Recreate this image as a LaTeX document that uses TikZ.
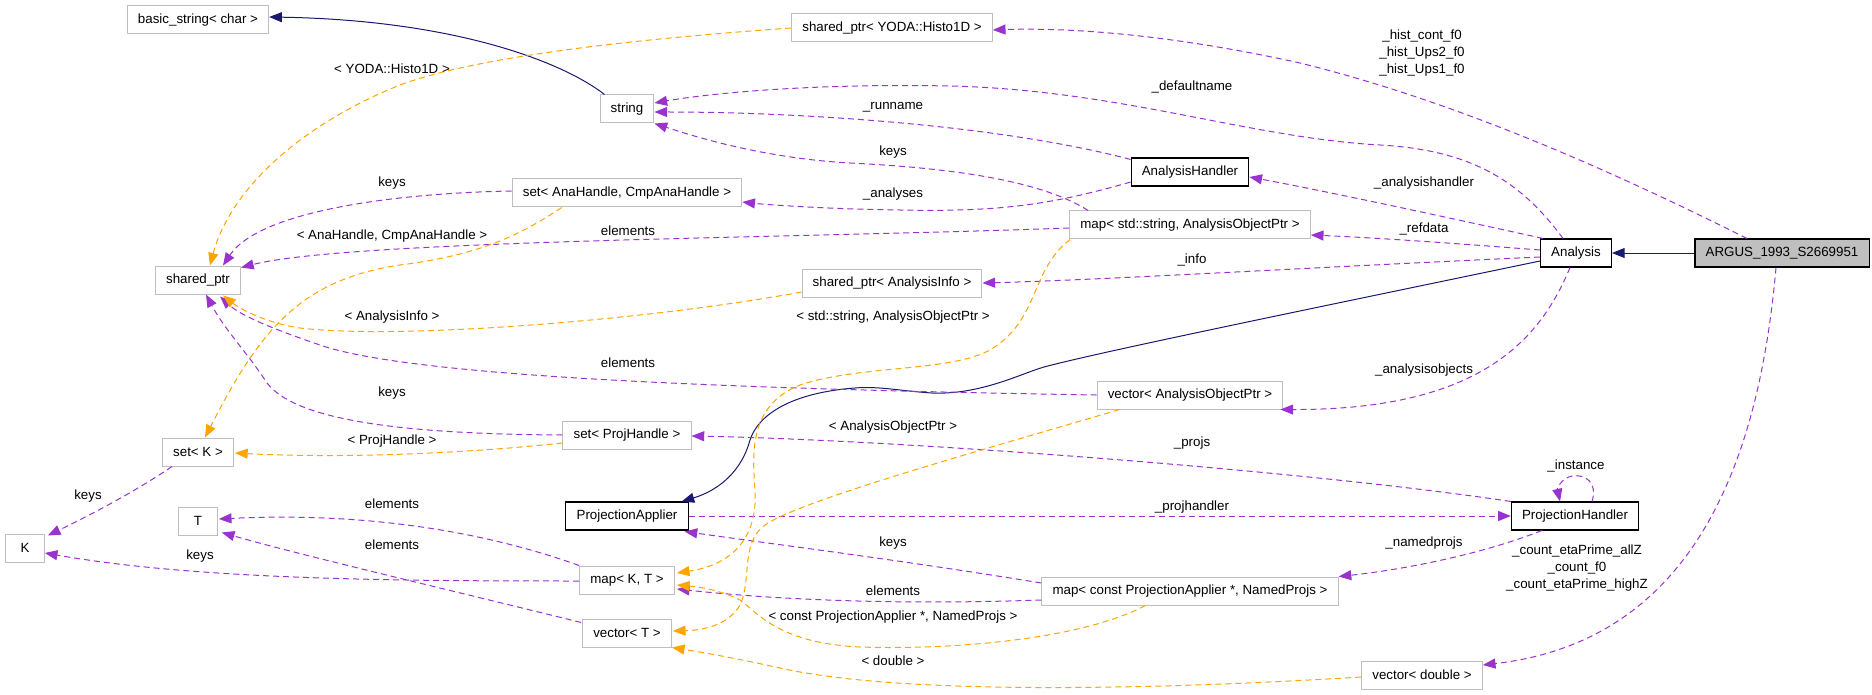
\documentclass[tikz,border=0pt]{standalone}
\usepackage{fontspec}
\setmainfont{Liberation Sans}
\usetikzlibrary{arrows.meta,calc}
\definecolor{usecol}{HTML}{9A32CD}
\definecolor{tplcol}{HTML}{FFA500}
\definecolor{inhcol}{HTML}{191970}
\definecolor{boxgray}{HTML}{BFBFBF}
\tikzset{%
	cls/.style      = {draw=black, line width=0.8pt, rectangle, minimum height=21pt, minimum width=29pt, inner xsep=8pt, inner ysep=0pt, font=\fontsize{10}{12}\selectfont}, % Class
	tcls/.style     = {cls, draw=boxgray, line width=0.75pt}, % Template / external
	cur/.style      = {cls, fill=boxgray}, % This class
	lbl/.style      = {inner sep=0pt, align=center, font=\fontsize{10}{13}\selectfont}, % Edge label
	usage/.style    = {draw=usecol, line width=0.75pt, dash pattern=on 4.5pt off 3pt, -{Triangle[length=9.5pt,width=7.5pt]}},
	tmpl/.style     = {usage, draw=tplcol},
	inherit/.style  = {draw=inhcol, line width=0.75pt, -{Triangle[length=9.5pt,width=7.5pt]}},
}
\begin{document}
\begin{tikzpicture}[x=0.75pt,y=-0.75pt]
	\useasboundingbox (0,0) rectangle (1872,695);
	\node [cur]  (argus)  at (1782,253) {ARGUS\_1993\_S2669951};
	\node [cls]  (ana)    at (1576,253) {Analysis};
	\node [cls]  (anah)   at (1190,172) {AnalysisHandler};
	\node [cls]  (projh)  at (1575,516) {ProjectionHandler};
	\node [cls]  (proja)  at (627,516)  {ProjectionApplier};
	\node [tcls] (shyoda) at (892,28)   {shared\_ptr< YODA::Histo1D >};
	\node [tcls] (str)    at (627,109)  {string};
	\node [tcls] (bstr)   at (198,20)   {basic\_string< char >};
	\node [tcls] (setana) at (627,193)  {set< AnaHandle, CmpAnaHandle >};
	\node [tcls] (mapstr) at (1190,225) {map< std::string, AnalysisObjectPtr >};
	\node [tcls] (shinfo) at (892,283)  {shared\_ptr< AnalysisInfo >};
	\node [tcls] (shptr)  at (198,280)  {shared\_ptr};
	\node [tcls] (vecaop) at (1190,395) {vector< AnalysisObjectPtr >};
	\node [tcls] (setproj) at (627,435) {set< ProjHandle >};
	\node [tcls] (setk)   at (198,452)  {set< K >};
	\node [tcls] (k)      at (25,548)   {K};
	\node [tcls] (t)      at (198,521)  {T};
	\node [tcls] (mapkt)  at (627,580)  {map< K, T >};
	\node [tcls] (vect)   at (627,633)  {vector< T >};
	\node [tcls] (mappa)  at (1190,591) {map< const ProjectionApplier *, NamedProjs >};
	\node [tcls] (vecdbl) at (1422,675) {vector< double >};

	% inheritance
	\draw[inherit] (argus.west) -- (ana.east);
	\draw[inherit] ($(ana.west)+(0,8)$) .. controls (1300,311) and (1100,352) .. (1044,367) .. controls (1020,374) and (980,395) .. (932,393) .. controls (900,391) and (880,386) .. (855,388) .. controls (800,392) and (760,410) .. (750,440) .. controls (742,470) and (720,490) .. ($(proja.north east)+(-7,0)$);
	\draw[inherit] ($(str.north west)+(5,0)$) .. controls (560,60) and (450,20) .. ($(bstr.east)+(0,-3)$);

	% usage
	\draw[usage] ($(argus.north)+(-35,0)$) .. controls (1600,165) and (1450,100) .. (1300,63) .. controls (1150,30) and (1050,28) .. ($(shyoda.east)+(0,2)$) node[lbl] at (1422,53) {\_hist\_cont\_f0\\\_hist\_Ups2\_f0\\\_hist\_Ups1\_f0};
	\draw[usage] ($(argus.south)+(-6,0)$) .. controls (1760,450) and (1700,640) .. ($(vecdbl.east)+(0,-10)$) node[lbl] at (1577,568) {\_count\_etaPrime\_allZ\\\_count\_f0\\\_count\_etaPrime\_highZ};
	\draw[usage] ($(ana.north)+(-13,0)$) .. controls (1520,180) and (1470,150) .. (1380,145) .. controls (1250,138) and (1120,90) .. (950,86) .. controls (800,83) and (700,95) .. ($(str.east)+(0,-6)$) node[lbl] at (1192,87) {\_defaultname};
	\draw[usage] ($(anah.north west)+(0,2)$) .. controls (1000,125) and (800,112) .. ($(str.east)+(0,3)$) node[lbl] at (893,107) {\_runname};
	\draw[usage] ($(mapstr.north west)+(19,0)$) .. controls (1040,180) and (950,168) .. (850,163) .. controls (760,158) and (690,135) .. (str.south east) node[lbl] at (893,152) {keys};
	\draw[usage] ($(ana.north west)+(3,0)$) .. controls (1450,218) and (1330,192) .. ($(anah.east)+(0,5)$) node[lbl] at (1424,183) {\_analysishandler};
	\draw[usage] ($(anah.west)+(0,10)$) .. controls (1050,205) and (1000,212) .. (900,210) .. controls (820,209) and (760,204) .. ($(setana.east)+(0,9)$) node[lbl] at (893,194) {\_analyses};
	\draw[usage] ($(setana.west)+(0,-2)$) .. controls (400,193) and (260,210) .. ($(shptr.north)+(25,0)$) node[lbl] at (392,183) {keys};
	\draw[usage] ($(mapstr.west)+(0,3)$) .. controls (800,238) and (350,240) .. ($(shptr.north east)+(0,2)$) node[lbl] at (628,231) {elements};
	\draw[usage] ($(ana.west)+(0,-3)$) .. controls (1450,243) and (1380,238) .. ($(mapstr.east)+(0,10)$) node[lbl] at (1424,229) {\_refdata};
	\draw[usage] ($(ana.west)+(0,4)$) .. controls (1300,268) and (1100,280) .. (shinfo.east) node[lbl] at (1192,260) {\_info};
	\draw[usage] ($(ana.south)+(-6,0)$) .. controls (1540,340) and (1480,410) .. ($(vecaop.south east)+(-3,0)$) node[lbl] at (1424,370) {\_analysisobjects};
	\draw[usage] (vecaop.west) .. controls (800,390) and (420,380) .. (320,345) .. controls (270,328) and (240,315) .. ($(shptr.south east)+(-21,2)$) node[lbl] at (628,363) {elements};
	\draw[usage] (setproj.west) .. controls (400,434) and (290,420) .. (265,380) .. controls (245,350) and (225,330) .. ($(shptr.south)+(8,0)$) node[lbl] at (392,393) {keys};
	\draw[usage] (projh.north west) .. controls (1300,470) and (900,440) .. ($(setproj.east)+(0,1)$) node[lbl] at (1192,443) {\_projs};
	\draw[usage] ($(projh.north)+(17,0)$) .. controls (1598,482) and (1585,474) .. (1572,476) .. controls (1562,478) and (1557,488) .. ($(projh.north)+(-15,0)$) node[lbl] at (1576,466) {\_instance};
	\draw[usage] (proja.east) -- (projh.west) node[lbl] at (1192,507) {\_projhandler};
	\draw[usage] ($(projh.south west)+(31,0)$) .. controls (1480,555) and (1400,570) .. (mappa.north east) node[lbl] at (1424,543) {\_namedprojs};
	\draw[usage] ($(mappa.west)+(0,-8)$) .. controls (900,560) and (780,545) .. ($(proja.south east)+(-4,1)$) node[lbl] at (893,543) {keys};
	\draw[usage] ($(mappa.west)+(0,9)$) .. controls (900,605) and (780,600) .. ($(mapkt.east)+(2,9)$) node[lbl] at (893,591) {elements};
	\draw[usage] ($(setk.south west)+(10,0)$) .. controls (130,495) and (80,520) .. ($(k.north east)+(3,2)$) node[lbl] at (88,496) {keys};
	\draw[usage] ($(mapkt.west)+(0,1)$) .. controls (400,581) and (200,580) .. ($(k.east)+(0,5)$) node[lbl] at (200,556) {keys};
	\draw[usage] (mapkt.north west) .. controls (480,530) and (360,512) .. ($(t.east)+(1,-2)$) node[lbl] at (392,504) {elements};
	\draw[usage] ($(vect.north west)+(-1,4)$) .. controls (450,590) and (300,555) .. ($(t.south east)+(4,-3)$) node[lbl] at (392,545) {elements};

	% template instances
	\draw[tmpl] (shyoda.west) .. controls (650,38) and (480,55) .. (400,85) .. controls (300,125) and (230,190) .. ($(shptr.north)+(12,0)$) node[lbl] at (392,69) {< YODA::Histo1D >};
	\draw[tmpl] ($(setana.south west)+(50,0)$) .. controls (520,235) and (480,255) .. (400,265) .. controls (300,280) and (260,330) .. ($(setk.north)+(7,0)$) node[lbl] at (392,236) {< AnaHandle, CmpAnaHandle >};
	\draw[tmpl] ($(shinfo.west)+(0,9)$) .. controls (650,320) and (400,340) .. (300,328) .. controls (260,322) and (235,305) .. ($(shptr.south east)+(-18,1)$) node[lbl] at (392,317) {< AnalysisInfo >};
	\draw[tmpl] ($(setproj.west)+(0,8)$) .. controls (450,455) and (330,458) .. ($(setk.east)+(1,1)$) node[lbl] at (392,441) {< ProjHandle >};
	\draw[tmpl] ($(mapstr.south west)+(1,0)$) .. controls (1030,270) and (1040,320) .. (990,350) .. controls (950,372) and (860,365) .. (800,385) .. controls (750,405) and (752,450) .. (755,490) .. controls (758,540) and (730,565) .. ($(mapkt.east)+(2,-7)$) node[lbl] at (893,317) {< std::string, AnalysisObjectPtr >};
	\draw[tmpl] ($(vecaop.south west)+(23,0)$) .. controls (1000,445) and (800,500) .. (765,525) .. controls (740,543) and (752,580) .. (740,605) .. controls (730,622) and (710,630) .. ($(vect.east)+(1,-2)$) node[lbl] at (893,427) {< AnalysisObjectPtr >};
	\draw[tmpl] ($(mappa.south west)+(104,0)$) .. controls (1080,640) and (950,650) .. (860,647) .. controls (780,643) and (760,615) .. (740,600) .. controls (720,590) and (700,587) .. ($(mapkt.east)+(2,5)$) node[lbl] at (893,617) {< const ProjectionApplier *, NamedProjs >};
	\draw[tmpl] ($(vecdbl.west)+(0,2)$) .. controls (1150,690) and (900,695) .. (780,668) .. controls (730,657) and (700,652) .. (vect.south east) node[lbl] at (893,661) {< double >};
\end{tikzpicture}
\end{document}
